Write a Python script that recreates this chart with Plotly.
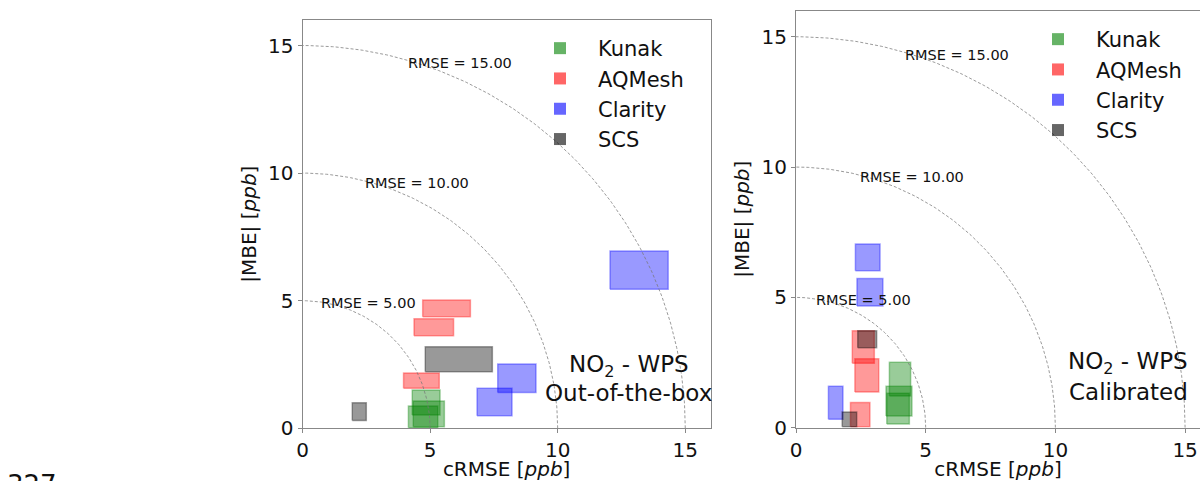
import numpy as np
import plotly.graph_objects as go

# ---------------- data ----------------
sensors = ["Kunak", "AQMesh", "Clarity", "SCS"]
rgb = {"Kunak": (0, 128, 0), "AQMesh": (255, 0, 0), "Clarity": (0, 0, 255), "SCS": (0, 0, 0)}

# Out-of-the-box panel: cRMSE range and |MBE| range per box
oob_crmse_lo = {"Kunak": [4.30, 4.34, 4.15], "AQMesh": [4.71, 4.37, 3.96],
                "Clarity": [12.05, 7.65, 6.84], "SCS": [4.81, 1.95]}
oob_crmse_hi = {"Kunak": [5.39, 5.56, 5.30], "AQMesh": [6.58, 5.92, 5.36],
                "Clarity": [14.33, 9.15, 8.21], "SCS": [7.44, 2.50]}
oob_mbe_lo = {"Kunak": [0.52, 0.06, 0.02], "AQMesh": [4.37, 3.63, 1.57],
              "Clarity": [5.45, 1.40, 0.49], "SCS": [2.22, 0.31]}
oob_mbe_hi = {"Kunak": [1.50, 1.07, 0.87], "AQMesh": [5.03, 4.29, 2.17],
              "Clarity": [6.95, 2.52, 1.57], "SCS": [3.20, 1.00]}

# Calibrated panel
cal_crmse_lo = {"Kunak": [3.60, 3.47, 3.50], "AQMesh": [2.17, 2.27, 2.10],
                "Clarity": [2.29, 2.35, 1.25], "SCS": [2.38, 1.78]}
cal_crmse_hi = {"Kunak": [4.42, 4.47, 4.37], "AQMesh": [3.02, 3.19, 2.85],
                "Clarity": [3.24, 3.35, 1.81], "SCS": [3.11, 2.34]}
cal_mbe_lo = {"Kunak": [1.22, 0.45, 0.14], "AQMesh": [2.47, 1.37, 0.04],
              "Clarity": [6.02, 4.67, 0.32], "SCS": [3.07, 0.04]}
cal_mbe_hi = {"Kunak": [2.51, 1.59, 1.32], "AQMesh": [3.72, 2.65, 0.97],
              "Clarity": [7.05, 5.72, 1.59], "SCS": [3.72, 0.60]}

rmse_levels = [5, 10, 15]
rmse_label_x = [2.59, 4.47, 6.19]
rmse_label_y = [4.90, 9.61, 14.30]
tick_vals = [0, 5, 10, 15]

FONT = "DejaVu Sans"
W, H = 1200, 481

fig = go.Figure()

def rgba(name, a):
    r, g, b = rgb[name]
    return f"rgba({r},{g},{b},{a})"

def add_boxes(xlo, xhi, ylo, yhi, xa, ya):
    for s in sensors:
        for x0, x1, y0, y1 in zip(xlo[s], xhi[s], ylo[s], yhi[s]):
            fig.add_trace(go.Scatter(
                x=[x0, x1, x1, x0, x0], y=[y0, y0, y1, y1, y0],
                mode="lines", fill="toself", fillcolor=rgba(s, 0.4),
                line=dict(color=rgba(s, 0.35), width=1.5),
                xaxis=xa, yaxis=ya, showlegend=False, hoverinfo="skip"))

def add_arcs(xa, ya):
    th = np.linspace(0, np.pi / 2, 200)
    for r in rmse_levels:
        fig.add_trace(go.Scatter(
            x=r * np.cos(th), y=r * np.sin(th), mode="lines",
            line=dict(color="rgba(120,120,120,0.75)", width=1, dash="3px,2px"),
            xaxis=xa, yaxis=ya, showlegend=False, hoverinfo="skip"))

add_boxes(oob_crmse_lo, oob_crmse_hi, oob_mbe_lo, oob_mbe_hi, "x", "y")
add_arcs("x", "y")
add_boxes(cal_crmse_lo, cal_crmse_hi, cal_mbe_lo, cal_mbe_hi, "x2", "y2")
add_arcs("x2", "y2")

# legend entries
for lg, xa, ya in [("legend", "x", "y"), ("legend2", "x2", "y2")]:
    for s in sensors:
        fig.add_trace(go.Scatter(
            x=[None], y=[None], mode="markers", name=s,
            marker=dict(symbol="square", size=12, color=rgba(s, 0.6)),
            xaxis=xa, yaxis=ya, legend=lg, showlegend=True))

def py(px):
    return 1 - px / H

annotations = []
for xr, yr in [("x", "y"), ("x2", "y2")]:
    for lvl, lx, ly in zip(rmse_levels, rmse_label_x, rmse_label_y):
        annotations.append(dict(x=lx, y=ly, xref=xr, yref=yr, text=f"RMSE = {lvl:.2f}",
                                xanchor="center", yanchor="middle",
                                showarrow=False, font=dict(family=FONT, size=14.5, color="#111")))

big = dict(family=FONT, size=23, color="#111")
annotations += [
    dict(x=628.6 / W, y=py(366), xref="paper", yref="paper", text="NO<sub>2</sub> - WPS",
         showarrow=False, xanchor="center", yanchor="middle", font=big),
    dict(x=628.6 / W, y=py(393), xref="paper", yref="paper", text="Out-of-the-box",
         showarrow=False, xanchor="center", yanchor="middle", font=big),
    dict(x=1128 / W, y=py(363), xref="paper", yref="paper", text="NO<sub>2</sub> - WPS",
         showarrow=False, xanchor="center", yanchor="middle", font=big),
    dict(x=1128 / W, y=py(392), xref="paper", yref="paper", text="Calibrated",
         showarrow=False, xanchor="center", yanchor="middle", font=big),
    dict(x=5 / W, y=py(468), xref="paper", yref="paper", text="327",
         showarrow=False, xanchor="left", yanchor="top",
         font=dict(family=FONT, size=26, color="#111")),
]

ax_common = dict(range=[0, 16], tickvals=tick_vals, ticks="outside", ticklen=4,
                 tickcolor="#888", tickwidth=1, showline=True, linecolor="#888", linewidth=1,
                 showgrid=False, zeroline=False, automargin=False,
                 tickfont=dict(family=FONT, size=20, color="#111"))
title_font = dict(family=FONT, size=20, color="#111")

fig.update_layout(
    width=W, height=H, margin=dict(l=0, r=0, t=0, b=0, autoexpand=False),
    paper_bgcolor="white", plot_bgcolor="white",
    xaxis=dict(**ax_common, domain=[302.5 / W, 710.8 / W], mirror=True, anchor="y",
               title=dict(text="cRMSE [<i>ppb</i>]", standoff=4, font=title_font)),
    yaxis=dict(**ax_common, domain=[py(428.3), py(20)], mirror=True, anchor="x",
               title=dict(text="|MBE| [<i>ppb</i>]", standoff=6, font=title_font)),
    xaxis2=dict(**{**ax_common, "range": [0, (W - 796) / 25.94]}, domain=[796 / W, 1.0],
                mirror=True, anchor="y2",
                title=dict(text="cRMSE [<i>ppb</i>]", standoff=4, font=title_font)),
    yaxis2=dict(**ax_common, domain=[py(427.7), py(10.7)], mirror=False, anchor="x2",
                title=dict(text="|MBE| [<i>ppb</i>]", standoff=6, font=title_font)),
    legend=dict(x=522 / W, y=py(28), xanchor="left", yanchor="top",
                bgcolor="rgba(0,0,0,0)", font=dict(family=FONT, size=21, color="#111"),
                itemwidth=66, tracegroupgap=0),
    legend2=dict(x=1020 / W, y=py(19), xanchor="left", yanchor="top",
                 bgcolor="rgba(0,0,0,0)", font=dict(family=FONT, size=21, color="#111"),
                 itemwidth=66, tracegroupgap=0),
    annotations=annotations,
    showlegend=True,
)

fig.write_html("out.html")
